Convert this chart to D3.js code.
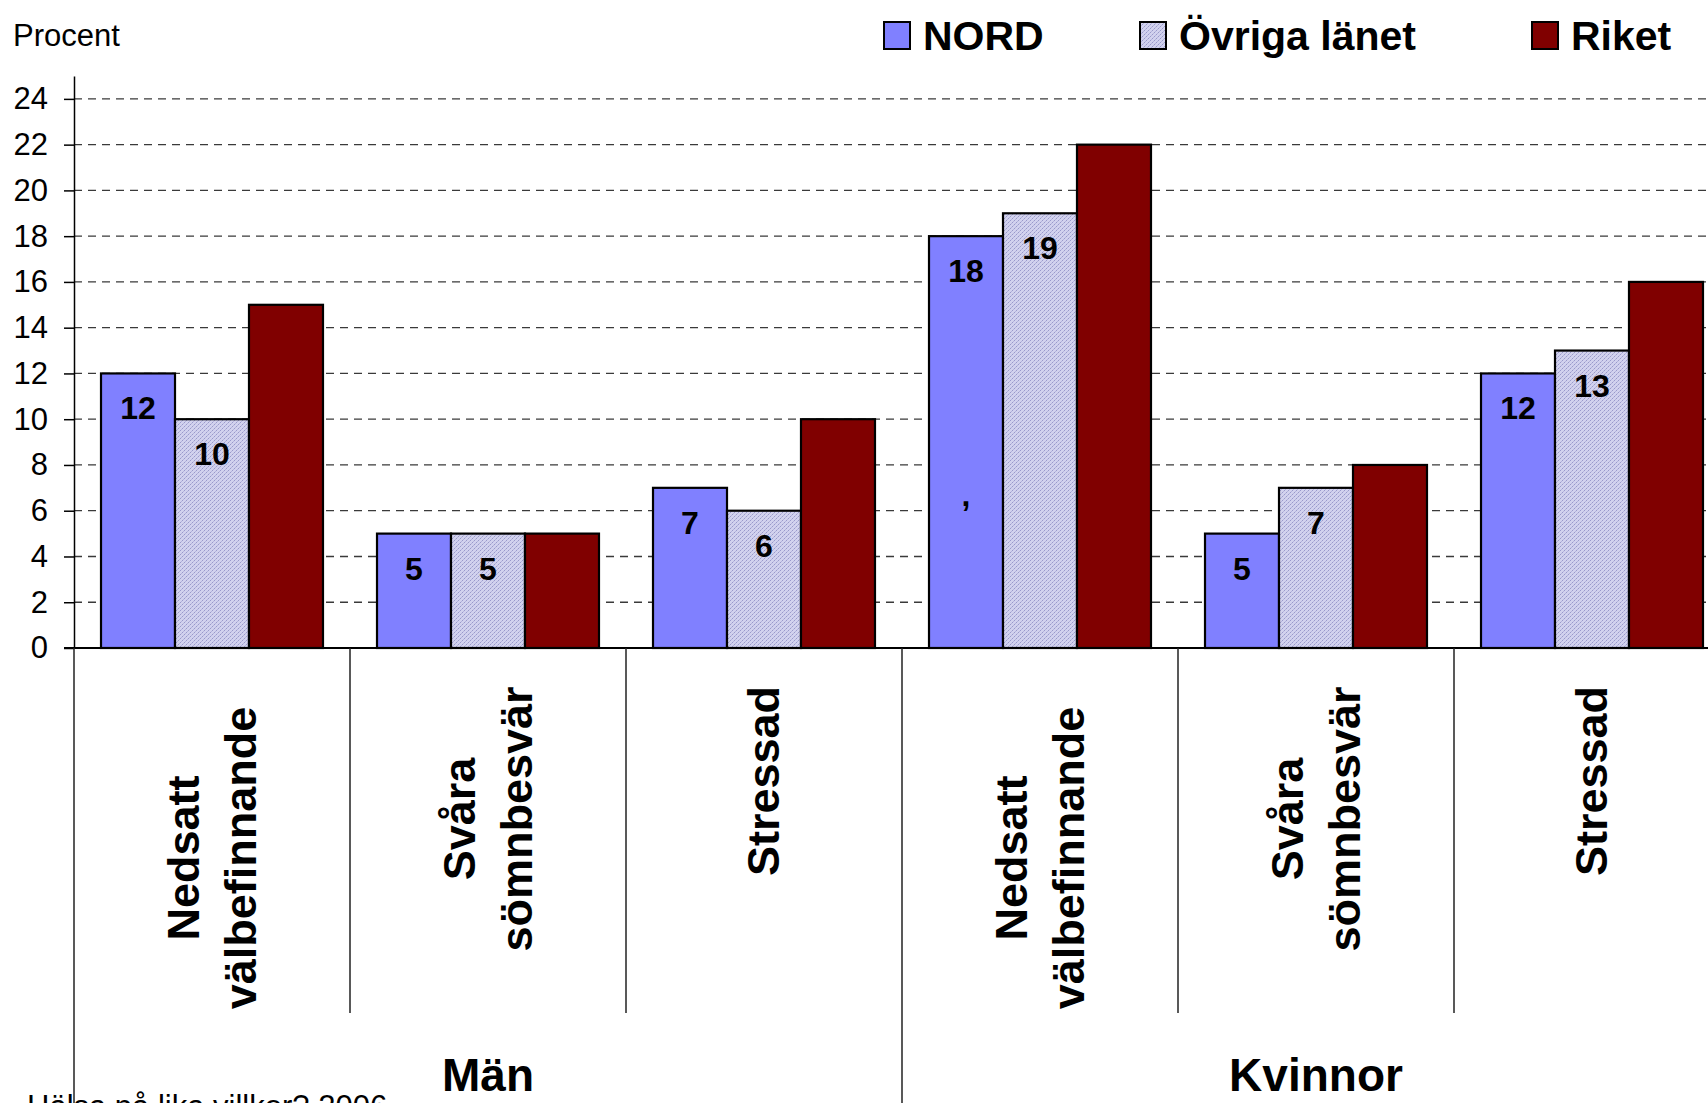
<!DOCTYPE html>
<html>
<head>
<meta charset="utf-8">
<script src="https://cdn.jsdelivr.net/npm/d3@7"></script>
<style>
  body { margin: 0; background: #fff; overflow: hidden; }
  svg { display: block; font-family: "Liberation Sans", Arial, sans-serif; }
</style>
</head>
<body>
<svg id="chart" width="1708" height="1103"></svg>
<script>
// data
var groups = ["Män", "Kvinnor"];
var categories = ["Nedsatt välbefinnande", "Svåra sömnbesvär", "Stressad",
                  "Nedsatt välbefinnande", "Svåra sömnbesvär", "Stressad"];
var seriesNames = ["NORD", "Övriga länet", "Riket"];
var nord = [12, 5, 7, 18, 5, 12];
var ovriga = [10, 5, 6, 19, 7, 13];
var riket = [15, 5, 10, 22, 8, 16];
var yTicks = [0, 2, 4, 6, 8, 10, 12, 14, 16, 18, 20, 22, 24];

var svg = d3.select("#chart");
var W = 1708, H = 1103;
var left = 74, right = 1730, y0 = 648, yTop = 76;

var defs = svg.append("defs");
var pat = defs.append("pattern").attr("id", "dots")
    .attr("width", 4).attr("height", 4).attr("patternUnits", "userSpaceOnUse");
pat.append("rect").attr("width", 4).attr("height", 4).attr("fill", "#d2d2ee");
pat.append("rect").attr("x", 0).attr("y", 0).attr("width", 1).attr("height", 1).attr("fill", "#9a9acb");
pat.append("rect").attr("x", 2).attr("y", 2).attr("width", 1).attr("height", 1).attr("fill", "#9a9acb");
pat.append("rect").attr("x", 1).attr("y", 3).attr("width", 1).attr("height", 1).attr("fill", "#b4b4dc");
pat.append("rect").attr("x", 3).attr("y", 1).attr("width", 1).attr("height", 1).attr("fill", "#b4b4dc");

var fills = ["#8080ff", "url(#dots)", "#800000"];
var values = [nord, ovriga, riket];

var y = d3.scaleLinear().domain([0, 25]).range([y0, yTop]);
var x0 = d3.scaleBand().domain(d3.range(categories.length)).range([left, right]);
var x1 = d3.scaleBand().domain(seriesNames).range([0, x0.bandwidth()])
    .paddingInner(0).paddingOuter(0.365);

// gridlines
svg.append("g").selectAll("line").data(yTicks.filter(function (d) { return d > 0; }))
  .join("line")
    .attr("x1", left).attr("x2", W)
    .attr("y1", function (d) { return y(d); }).attr("y2", function (d) { return y(d); })
    .attr("stroke", "#3a3a3a").attr("stroke-width", 1.3).attr("stroke-dasharray", "8,6");

// y axis
var yAxis = svg.append("g").attr("transform", "translate(" + left + ",0)")
    .call(d3.axisLeft(y).tickValues(yTicks).tickSize(10).tickSizeOuter(0).tickPadding(16));
yAxis.select(".domain").attr("stroke", "#000").attr("stroke-width", 1.5);
yAxis.selectAll(".tick line").attr("stroke", "#000").attr("stroke-width", 1.5);
yAxis.selectAll(".tick text").attr("font-size", 31).attr("fill", "#000")
    .attr("font-family", "Liberation Sans, Arial, sans-serif");

// bars
var rows = categories.map(function (c, i) { return i; });
var cat = svg.append("g").selectAll("g").data(rows).join("g")
    .attr("transform", function (i) { return "translate(" + x0(i) + ",0)"; });
cat.selectAll("rect").data(function (i) {
    return seriesNames.map(function (s, k) { return { s: s, k: k, v: values[k][i] }; });
  }).join("rect")
    .attr("x", function (d) { return x1(d.s); })
    .attr("y", function (d) { return y(d.v); })
    .attr("width", x1.bandwidth())
    .attr("height", function (d) { return y0 - y(d.v); })
    .attr("fill", function (d) { return fills[d.k]; })
    .attr("stroke", "#000").attr("stroke-width", 2.2);

// value labels (NORD and Övriga länet only)
cat.selectAll("text").data(function (i) {
    return [0, 1].map(function (k) { return { s: seriesNames[k], v: values[k][i] }; });
  }).join("text")
    .attr("x", function (d) { return x1(d.s) + x1.bandwidth() / 2; })
    .attr("y", function (d) { return y(d.v) + 46; })
    .attr("text-anchor", "middle").attr("font-size", 32).attr("font-weight", "bold")
    .text(function (d) { return d.v; });

// stray comma inside the NORD bar for Kvinnor / Nedsatt välbefinnande
svg.append("text")
    .attr("x", x0(3) + x1("NORD") + x1.bandwidth() / 2)
    .attr("y", y(6) - 5)
    .attr("text-anchor", "middle").attr("font-size", 32).attr("font-weight", "bold")
    .text(",");

// x axis line
svg.append("line").attr("x1", left - 10).attr("x2", W).attr("y1", y0).attr("y2", y0)
    .attr("stroke", "#000").attr("stroke-width", 1.8);

// category dividers
var bounds = d3.range(categories.length + 1);
svg.append("g").selectAll("line").data(bounds).join("line")
    .attr("x1", function (i) { return left + i * x0.step(); })
    .attr("x2", function (i) { return left + i * x0.step(); })
    .attr("y1", y0)
    .attr("y2", function (i) { return i % 3 === 0 ? H : 1013; })
    .attr("stroke", "#222").attr("stroke-width", 1.5);

// category labels, rotated
var labelMid = { "Nedsatt välbefinnande": 858, "Svåra sömnbesvär": 819, "Stressad": 781 };
var lineH = 57;
categories.forEach(function (c, i) {
  var lines = c.split(" ");
  var cx = x0(i) + x0.bandwidth() / 2;
  var cy = labelMid[c];
  lines.forEach(function (t, j) {
    var bx = cx + 15 + (j - (lines.length - 1) / 2) * lineH;
    svg.append("text")
        .attr("transform", "translate(" + bx + "," + cy + ") rotate(-90)")
        .attr("text-anchor", "middle").attr("font-size", 45).attr("font-weight", "bold")
        .text(t);
  });
});

// group labels
groups.forEach(function (g, i) {
  var a = x0(i * 3), b = x0(i * 3 + 2) + x0.bandwidth();
  svg.append("text").attr("x", (a + b) / 2).attr("y", 1091)
      .attr("text-anchor", "middle").attr("font-size", 46).attr("font-weight", "bold")
      .text(g);
});

// y axis title
svg.append("text").attr("x", 13).attr("y", 46).attr("font-size", 31).text("Procent");

// legend
var legX = [884, 1140, 1532];
var leg = svg.append("g").selectAll("g").data(seriesNames).join("g")
    .attr("transform", function (d, i) { return "translate(" + legX[i] + ",22)"; });
leg.append("rect").attr("width", 26).attr("height", 27)
    .attr("fill", function (d, i) { return fills[i]; })
    .attr("stroke", "#000").attr("stroke-width", 2);
leg.append("text").attr("x", 39).attr("y", 28)
    .attr("font-size", 41).attr("font-weight", "bold")
    .text(function (d) { return d; });

// source note, cut off at the bottom edge as in the original
svg.append("text").attr("x", 27).attr("y", 1117).attr("font-size", 31)
    .text("Hälsa på lika villkor? 2006");
</script>
</body>
</html>
